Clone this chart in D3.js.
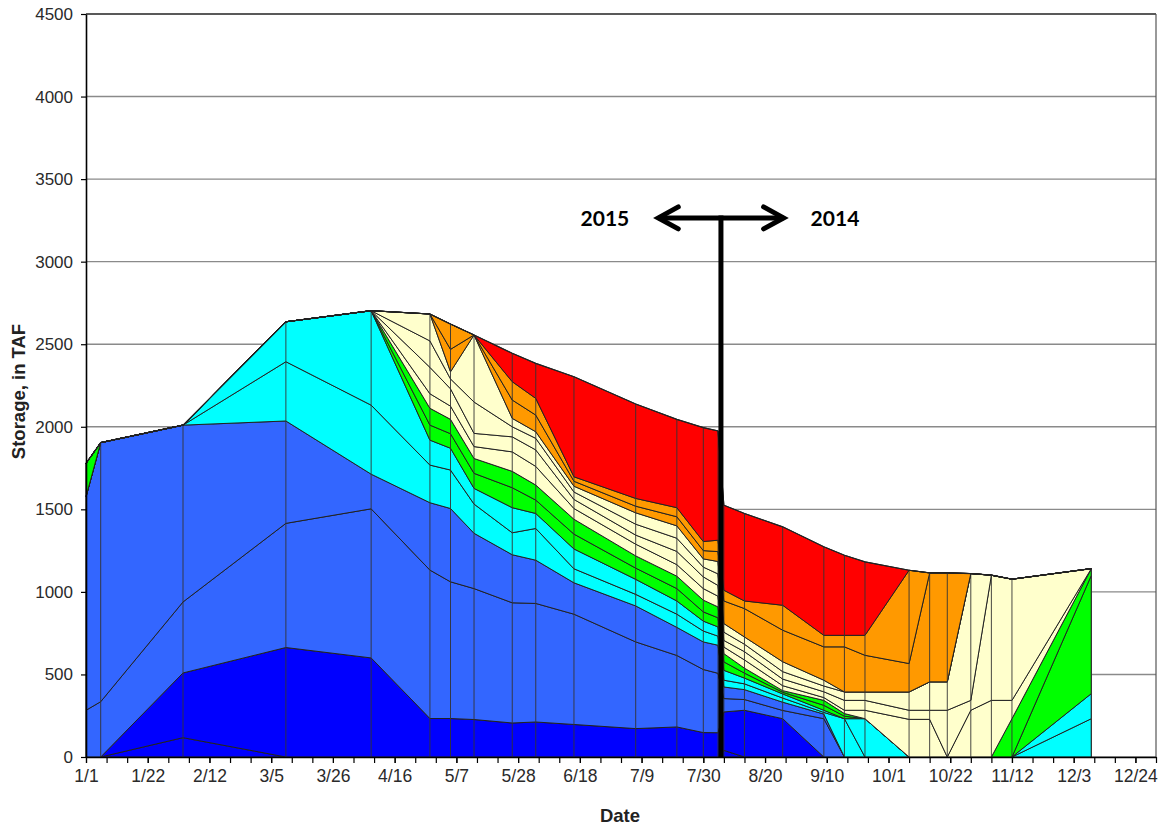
<!DOCTYPE html>
<html>
<head>
<meta charset="utf-8">
<script src="https://cdn.jsdelivr.net/npm/d3@7"></script>
<style>
  body { margin: 0; background: #fff; }
  text { font-family: "Liberation Sans", Arial, sans-serif; }
</style>
</head>
<body>
<div id="chart"></div>
<script>
/* Storage stacked area chart, 2015 (left of divider) and 2014 (right) */

// dates of each data point (month/day)
const dates = ["1/1","1/6","2/3","3/10","4/8","4/28","5/5","5/13","5/26","6/3","6/16","7/7","7/21","7/30","8/4",
               "8/6","8/13","8/26","9/9","9/16","9/23","10/8","10/15","10/21","10/29","11/5","11/12","12/9"];

// stacked series, bottom to top (TAF)
const darkBlueA = [0,0,117,0,0,0,0,0,0,0,0,0,0,0,0,40,0,0,0,0,0,0,0,0,0,0,0,0];
const darkBlueB = [0,0,392,663,600,233,233,227,206,212,197,172,182,148,147,233,283,232,0,0,0,0,0,0,0,0,0,0];
const medBlueA  = [283,335,430,752,903,899,828,793,728,718,668,525,433,382,360,81,65,50,232,0,0,0,0,0,0,0,0,0];
const medBlueB  = [1293,1569,1071,620,210,408,444,335,291,262,190,218,170,167,170,70,60,50,28,0,0,0,0,0,0,0,0,0];
const cyanA     = [0,0,0,359,418,228,233,177,133,192,85,70,80,66,55,41,35,25,10,232,0,0,0,0,0,0,0,232];
const cyanB     = [0,0,0,242,572,151,132,95,152,91,120,91,80,60,56,60,35,25,13,0,232,0,0,0,0,0,0,152];
const greenA    = [202,0,0,0,0,91,88,91,121,81,90,68,75,56,55,51,30,10,30,15,0,0,0,0,0,0,0,716];
const greenB    = [0,0,0,0,0,102,87,90,99,91,90,74,75,71,66,50,30,10,30,16,0,0,0,0,0,0,232,41];
const yellowA   = [0,0,0,0,0,88,80,72,118,113,65,71,70,70,65,40,50,30,17,20,51,228,228,0,283,343,111,0];
const yellowB   = [0,0,0,0,0,160,105,80,91,100,55,55,80,71,65,40,50,40,35,60,60,55,55,283,60,758,734,0];
const yellowC   = [0,0,0,0,0,160,60,190,61,70,45,66,80,59,70,50,45,45,35,51,51,111,172,172,768,0,0,0];
const yellowD   = [0,0,0,0,0,163,43,406,51,40,35,69,75,50,75,52,44,60,35,0,0,0,0,0,0,0,0,0];
const orangeA   = [0,0,0,0,0,0,136,0,111,101,30,40,55,50,60,137,172,191,202,273,222,172,660,660,0,0,0,0];
const orangeB   = [0,0,0,0,0,0,153,0,111,101,27,47,55,55,69,65,46,151,70,70,121,565,0,0,0,0,0,0];
const red       = [0,0,0,0,0,0,0,0,172,212,606,572,535,690,662,515,530,475,536,485,445,0,0,0,0,0,0,0];

// axis ticks
const xTickLabels = ["1/1","1/22","2/12","3/5","3/26","4/16","5/7","5/28","6/18","7/9","7/30",
                     "8/20","9/10","10/1","10/22","11/12","12/3","12/24"];
const yTicks = [0,500,1000,1500,2000,2500,3000,3500,4000,4500];

// year divider annotation
const dividerDate = "8/5", arrowLeft = "7/14", arrowRight = "8/27", arrowLevel = 3265;

const width = 1165, height = 826,
    margin = ({ top: 14, right: 9, bottom: 69, left: 86 });

const parse = d3.timeParse("%m/%d");

const series = [
  ["dbA", darkBlueA, "#0000ff"], ["dbB", darkBlueB, "#0000ff"],
  ["mbA", medBlueA, "#3366ff"], ["mbB", medBlueB, "#3366ff"],
  ["cyA", cyanA, "#00ffff"], ["cyB", cyanB, "#00ffff"],
  ["grA", greenA, "#00ff00"], ["grB", greenB, "#00ff00"],
  ["ylA", yellowA, "#ffffcc"], ["ylB", yellowB, "#ffffcc"],
  ["ylC", yellowC, "#ffffcc"], ["ylD", yellowD, "#ffffcc"],
  ["orA", orangeA, "#ff9900"], ["orB", orangeB, "#ff9900"],
  ["rd", red, "#ff0000"]
];

const rows = dates.map((d, i) => {
  let r = { date: parse(d) };
  for (let s of series) r[s[0]] = s[1][i];
  return r;
});

const svg = d3.select("#chart")
  .append("svg")
  .attr("width", width)
  .attr("height", height);

let x = d3.scaleTime()
  .domain([parse("1/1"), parse("12/31")])
  .range([margin.left, width - margin.right]);

let y = d3.scaleLinear()
  .domain([0, 4500])
  .range([height - margin.bottom, margin.top]);

// horizontal gridlines
svg.append("g")
  .selectAll("line")
  .data(yTicks)
  .join("line")
  .attr("x1", margin.left)
  .attr("x2", width - margin.right)
  .attr("y1", d => y(d))
  .attr("y2", d => y(d))
  .attr("stroke", d => d == 4500 ? "#222" : "#8a8a8a")
  .attr("stroke-width", 1.4);

// right border
svg.append("line")
  .attr("x1", width - margin.right).attr("x2", width - margin.right)
  .attr("y1", margin.top).attr("y2", height - margin.bottom)
  .attr("stroke", "#555").attr("stroke-width", 1.2);

// stacked areas
let stack = d3.stack().keys(series.map(s => s[0]));
let layers = stack(rows);

let area = d3.area()
  .x(d => x(d.data.date))
  .y0(d => y(d[0]))
  .y1(d => y(d[1]));

svg.append("g")
  .selectAll("path")
  .data(layers)
  .join("path")
  .attr("d", area)
  .attr("fill", (d, i) => series[i][2])
  .attr("stroke", "#222")
  .attr("stroke-width", 1)
  .attr("stroke-linejoin", "round");

// drop lines at every data point
let topLayer = layers[layers.length - 1];
svg.append("g")
  .selectAll("line")
  .data(topLayer)
  .join("line")
  .attr("x1", d => x(d.data.date))
  .attr("x2", d => x(d.data.date))
  .attr("y1", d => y(d[1]))
  .attr("y2", y(0))
  .attr("stroke", "#333")
  .attr("stroke-width", 0.9);

// outline of the full stack
svg.append("path")
  .datum(topLayer)
  .attr("d", d3.line().x(d => x(d.data.date)).y(d => y(d[1])))
  .attr("fill", "none")
  .attr("stroke", "#222")
  .attr("stroke-width", 1.2);

// y axis
let yAxis = svg.append("g")
  .attr("transform", `translate(${margin.left},0)`)
  .call(d3.axisLeft(y).tickValues(yTicks).tickFormat(d3.format("d"))
    .tickSize(5).tickPadding(8).tickSizeOuter(0));
yAxis.select(".domain").attr("stroke", "#000").attr("stroke-width", 1.6);
yAxis.selectAll(".tick line").attr("stroke", "#000").attr("stroke-width", 1.2);
yAxis.selectAll("text").attr("font-size", 17).attr("fill", "#2a2a2a")
  .style("font-family", "'Liberation Sans', Arial, sans-serif");

// x axis: minor ticks weekly, labels every three weeks
let xStart = parse("1/1"), xEnd = parse("12/31");
let xAxisMinor = svg.append("g")
  .attr("transform", `translate(0,${height - margin.bottom})`)
  .call(d3.axisBottom(x)
    .tickValues(d3.timeDay.range(xStart, d3.timeDay.offset(xEnd, 1), 7))
    .tickSize(6).tickFormat("").tickSizeOuter(0));
xAxisMinor.select(".domain").attr("stroke", "#000").attr("stroke-width", 1.6);
xAxisMinor.selectAll(".tick line").attr("stroke", "#000").attr("stroke-width", 1.2);

let xAxis = svg.append("g")
  .attr("transform", `translate(0,${height - margin.bottom})`)
  .call(d3.axisBottom(x)
    .tickValues(xTickLabels.map(parse))
    .tickFormat((d, i) => xTickLabels[i])
    .tickSize(6).tickPadding(7).tickSizeOuter(0));
xAxis.select(".domain").remove();
xAxis.selectAll(".tick line").attr("stroke", "#000").attr("stroke-width", 1.2);
xAxis.selectAll("text").attr("font-size", 17.5).attr("fill", "#2a2a2a")
  .style("font-family", "'Liberation Sans', Arial, sans-serif");

// axis titles
svg.append("text")
  .attr("text-anchor", "middle")
  .attr("x", (margin.left + width - margin.right) / 2 - 1)
  .attr("y", 822)
  .attr("font-size", 18.5)
  .attr("font-weight", "bold")
  .attr("fill", "#222")
  .text("Date");

svg.append("text")
  .attr("text-anchor", "middle")
  .attr("transform", `translate(25,${(margin.top + height - margin.bottom) / 2 + 6}) rotate(-90)`)
  .attr("font-size", 18.5)
  .attr("font-weight", "bold")
  .attr("fill", "#222")
  .text("Storage, in TAF");

// year divider with double arrow
let xd = x(parse(dividerDate)), ya = y(arrowLevel);
let xl = x(parse(arrowLeft)), xr = x(parse(arrowRight));
let ann = svg.append("g")
  .attr("stroke", "#000")
  .attr("stroke-width", 5)
  .attr("fill", "none");
ann.append("line").attr("x1", xd).attr("x2", xd).attr("y1", y(0)).attr("y2", ya - 2.5);
ann.append("line").attr("x1", xl + 2).attr("x2", xr - 2).attr("y1", ya).attr("y2", ya);
ann.append("path")
  .attr("d", `M${xl + 22},${ya - 11}L${xl + 2},${ya}L${xl + 22},${ya + 11}`)
  .attr("stroke-linecap", "round");
ann.append("path")
  .attr("d", `M${xr - 22},${ya - 11}L${xr - 2},${ya}L${xr - 22},${ya + 11}`)
  .attr("stroke-linecap", "round");

svg.append("text")
  .attr("x", xl - 27).attr("y", ya + 8)
  .attr("text-anchor", "end")
  .attr("font-size", 21)
  .attr("font-weight", "bold")
  .style("font-family", "Lato, 'Open Sans', sans-serif")
  .text("2015");

svg.append("text")
  .attr("x", xr + 25).attr("y", ya + 8)
  .attr("text-anchor", "start")
  .attr("font-size", 21)
  .attr("font-weight", "bold")
  .style("font-family", "Lato, 'Open Sans', sans-serif")
  .text("2014");
</script>
</body>
</html>
